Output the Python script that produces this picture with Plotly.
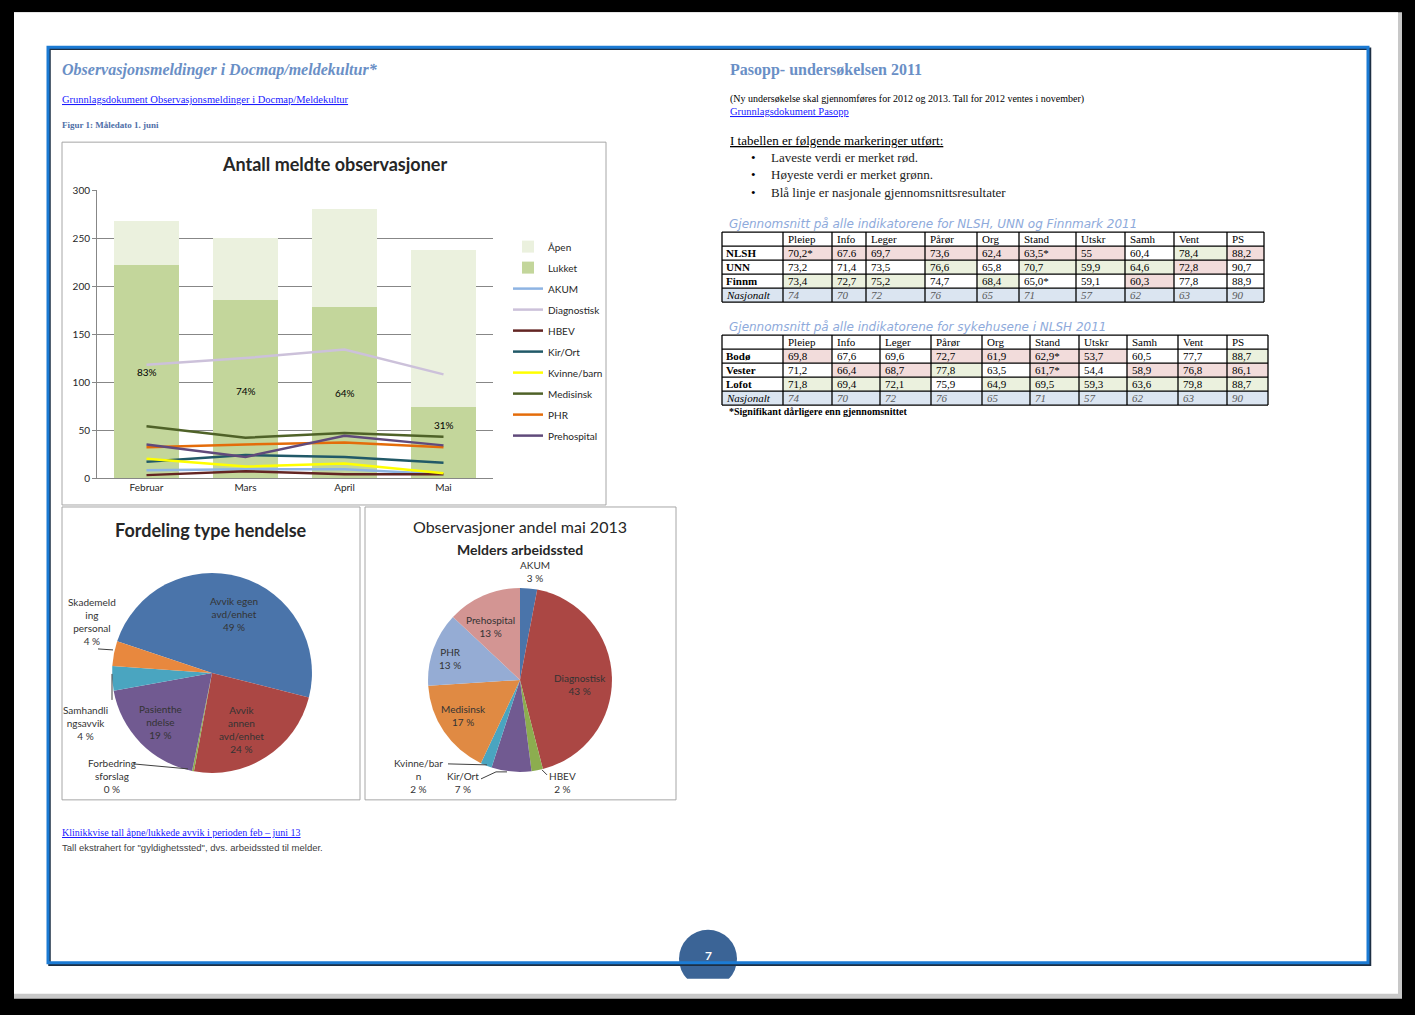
import plotly.graph_objects as go

W, H = 1415, 1015
# the page is photographed with a small vertical offset/scale; these undo it
VOFF, VSCALE = 4.8, 0.9876
def X(p): return p / W
def Y(p): return 1 - ((p - VOFF) / VSCALE) / H

# ---------------- DATA ----------------
months = ["Februar", "Mars", "April", "Mai"]
lukket = [222, 186, 178, 74]
apen = [46, 64, 102, 164]

akum = [8, 9, 9, 4]
diagnostisk = [118, 125, 134, 108]
hbev = [3, 7, 4, 4]
kir_ort = [17, 24, 22, 16]
kvinne_barn = [20, 12, 15, 5]
medisinsk = [54, 42, 47, 43]
phr = [32, 35, 37, 32]
prehospital = [35, 22, 44, 34]

hendelse_types = ["Avvik egen avd/enhet", "Avvik annen avd/enhet", "Forbedringsforslag",
                  "Pasienthendelse", "Samhandlingsavvik", "Skademelding personal"]
hendelse_pct = [49, 24, 0.3, 19, 4, 4]

arbeidssted = ["AKUM", "Diagnostisk", "HBEV", "Kir/Ort", "Kvinne/barn",
               "Medisinsk", "PHR", "Prehospital"]
arbeidssted_pct = [3, 43, 2, 7, 2, 17, 13, 13]

indikatorer = ["Pleiep", "Info", "Leger", "Pårør", "Org", "Stand", "Utskr", "Samh", "Vent", "PS"]
t1_rows = ["NLSH", "UNN", "Finnm", "Nasjonalt"]
t1_nlsh = ["70,2*", "67.6", "69,7", "73,6", "62,4", "63,5*", "55", "60,4", "78,4", "88,2"]
t1_unn = ["73,2", "71,4", "73,5", "76,6", "65,8", "70,7", "59,9", "64,6", "72,8", "90,7"]
t1_finnm = ["73,4", "72,7", "75,2", "74,7", "68,4", "65,0*", "59,1", "60,3", "77,8", "88,9"]
nasjonalt = ["74", "70", "72", "76", "65", "71", "57", "62", "63", "90"]

t2_rows = ["Bodø", "Vester", "Lofot", "Nasjonalt"]
t2_bodo = ["69,8", "67,6", "69,6", "72,7", "61,9", "62,9*", "53,7", "60,5", "77,7", "88,7"]
t2_vester = ["71,2", "66,4", "68,7", "77,8", "63,5", "61,7*", "54,4", "58,9", "76,8", "86,1"]
t2_lofot = ["71,8", "69,4", "72,1", "75,9", "64,9", "69,5", "59,3", "63,6", "79,8", "88,7"]

# marking per cell: r = lowest (red), g = highest (green), w = none
t1_marks = ["rrrrrrrwgr", "wwwgwgggrw", "gggwgwwrww"]
t2_marks = ["rwwrrrrwwg", "wrrgwrwrrr", "gggwgggggg"]

# ---------------- STYLE ----------------
SANS = "Lato"
SERIF = "Liberation Serif"
mark_col = {"r": "#f2dcdb", "g": "#ebf1de", "w": "#ffffff"}
nat_col = "#dbe5f1"

fig = go.Figure()
shapes = []

def rect(x0, y0, x1, y1, **kw):
    d = dict(type="rect", xref="paper", yref="paper", x0=X(x0), x1=X(x1), y0=Y(y1), y1=Y(y0))
    d.update(kw)
    shapes.append(d)

def line(x0, y0, x1, y1, color="#404040", width=1):
    shapes.append(dict(type="line", xref="paper", yref="paper", x0=X(x0), x1=X(x1),
                       y0=Y(y0), y1=Y(y1), line=dict(color=color, width=width)))

def txt(x, y, s, size=11, color="#000000", family=SERIF, xanchor="left", align="left"):
    fig.add_annotation(x=X(x), y=Y(y), xref="paper", yref="paper", text=s, showarrow=False,
                       xanchor=xanchor, yanchor="middle", align=align,
                       font=dict(family=family, size=size, color=color))

# page background
rect(14, 10, 1402, 997, fillcolor="#c8c8c8", line_width=0, layer="below")
rect(14, 10, 1398, 992, fillcolor="#ffffff", line_width=0, layer="below")

# ---- bar chart ----
fig.add_trace(go.Bar(x=months, y=lukket, name="Lukket", marker_color="#c3d69b",
                     marker_line_width=0, width=0.65, legendrank=2, legendgroup="b"))
fig.add_trace(go.Bar(x=months, y=apen, name="Åpen", marker_color="#ebf1de",
                     marker_line_width=0, width=0.65, legendrank=1, legendgroup="a"))
lines = [("AKUM", akum, "#8eb4e3"), ("Diagnostisk", diagnostisk, "#ccc1da"),
         ("HBEV", hbev, "#632523"), ("Kir/Ort", kir_ort, "#215968"),
         ("Kvinne/barn", kvinne_barn, "#ffff00"), ("Medisinsk", medisinsk, "#4f6228"),
         ("PHR", phr, "#e46c0a"), ("Prehospital", prehospital, "#604a7b")]
for i, (nm, vals, col) in enumerate(lines):
    fig.add_trace(go.Scatter(x=months, y=vals, name=nm, mode="lines",
                             line=dict(color=col, width=2.5), legendrank=3 + i,
                             legendgroup=f"l{i}"))

label_y = [110, 91, 89, 55]
for m, l, a, yy in zip(months, lukket, apen, label_y):
    fig.add_annotation(x=m, y=yy, xref="x", yref="y", showarrow=False,
                       text=f"{round(100 * l / (l + a))}%",
                       font=dict(family=SANS, size=10, color="#000000"))

# ---- pies ----
fig.add_trace(go.Pie(labels=hendelse_types, values=hendelse_pct, sort=False,
                     direction="clockwise", rotation=288.4, textinfo="none",
                     marker=dict(colors=["#4a74aa", "#ab4744", "#8cad4f", "#715a91",
                                         "#4aa5c0", "#e8883e"], line=dict(width=0)),
                     domain=dict(x=[X(112), X(312)], y=[Y(771), Y(571)]),
                     showlegend=False, hoverinfo="label+percent"))
fig.add_trace(go.Pie(labels=arbeidssted, values=arbeidssted_pct, sort=False,
                     direction="clockwise", rotation=0, textinfo="none",
                     marker=dict(colors=["#4a74aa", "#ab4744", "#8cad4f", "#715a91",
                                         "#4aa5c0", "#e08a43", "#95acd4", "#d39593"],
                                 line=dict(width=0)),
                     domain=dict(x=[X(428), X(612)], y=[Y(770), Y(586)]),
                     showlegend=False, hoverinfo="label+percent"))

# ---- tables (drawn cell by cell from the data lists) ----
def table(rows, data, marks, colw, x0, y0, rh=14):
    edges = [x0]
    for w_ in colw:
        edges.append(edges[-1] + w_)
    nrows = len(rows) + 1
    redges = [y0 + k * rh for k in range(nrows + 1)]
    for ri in range(len(rows)):
        ytop, ybot = redges[ri + 1], redges[ri + 2]
        is_nat = rows[ri] == "Nasjonalt"
        rect(edges[0], ytop, edges[1], ybot, fillcolor=nat_col if is_nat else "#ffffff",
             line_width=0, layer="below")
        for j in range(len(indikatorer)):
            c = nat_col if is_nat else mark_col[marks[ri][j]]
            rect(edges[j + 1], ytop, edges[j + 2], ybot, fillcolor=c, line_width=0, layer="below")
    for e in edges:
        line(e, redges[0], e, redges[-1], "#000000", 1.3)
    for r in redges:
        line(edges[0], r, edges[-1], r, "#000000", 1.3)
    for j, h in enumerate(indikatorer):
        txt(edges[j + 1] + 3, redges[0] + rh / 2, h, 11)
    for ri, rname in enumerate(rows):
        yc = redges[ri + 1] + rh / 2
        if rname == "Nasjonalt":
            txt(edges[0] + 2, yc, f"<i>{rname}</i>", 11)
            for j in range(len(indikatorer)):
                txt(edges[j + 1] + 3, yc, f"<i>{nasjonalt[j]}</i>", 11, "#595959")
        else:
            txt(edges[0] + 2, yc, f"<b>{rname}</b>", 11)
            for j in range(len(indikatorer)):
                txt(edges[j + 1] + 3, yc, data[ri][j], 11)

table(t1_rows, [t1_nlsh, t1_unn, t1_finnm], t1_marks,
      [61, 49, 34, 59, 52, 42, 57, 49, 49, 53, 37], 722, 230)
table(t2_rows, [t2_bodo, t2_vester, t2_lofot], t2_marks,
      [61, 49, 48, 51, 51, 48, 49, 48, 51, 49, 41], 722, 333)

# chart boxes
rect(62, 140, 606, 503, line=dict(color="#a6a6a6", width=1))
rect(62, 505, 360, 798, line=dict(color="#a6a6a6", width=1))
rect(365, 505, 676, 798, line=dict(color="#a6a6a6", width=1))
# leader lines
line(98, 647, 113, 648)
line(112, 672, 112, 698)
line(133, 762, 188, 767)
line(448, 762, 487, 763)
line(481, 777, 496, 770)
line(496, 770, 507, 770)
line(542, 768, 547, 773)
# page number badge
shapes.append(dict(type="circle", xref="paper", yref="paper", x0=X(679), x1=X(737),
                   y0=Y(986), y1=Y(928), fillcolor="#3b6496", line_width=0))
rect(672, 977, 744, 990, fillcolor="#ffffff", line_width=0)
# frame
rect(49.5, 46.5, 1370, 963, line=dict(color="#1d2f44", width=2.5))
rect(48, 45, 1368, 961, line=dict(color="#1c7bd4", width=3))

# ---------------- TEXT ----------------
txt(60, 68, "<b><i>Observasjonsmeldinger i Docmap/meldekultur*</i></b>", 16, "#6a8fc6")
txt(60, 97, "<u>Grunnlagsdokument Observasjonsmeldinger i Docmap/Meldekultur</u>", 10.5, "#1a1aff")
txt(60, 123, "<b>Figur 1: Måledato 1. juni</b>", 9, "#4f6fa8")
txt(728, 68, "<b>Pasopp- undersøkelsen 2011</b>", 16, "#6a8fc6")
txt(728, 97, "(Ny undersøkelse skal gjennomføres for 2012 og 2013. Tall for 2012 ventes i november)", 10, "#000000")
txt(728, 109, "<u>Grunnlagsdokument Pasopp</u>", 10.5, "#1a1aff")
txt(728, 138, "<u>I tabellen er følgende markeringer utført:</u>", 13, "#000000")
for yy, s in [(155, "Laveste verdi er merket rød."), (172, "Høyeste verdi er merket grønn."),
              (190, "Blå linje er nasjonale gjennomsnittsresultater")]:
    txt(749, yy, "•", 13)
    txt(769, yy, s, 13, "#1a1a1a")
txt(727, 222, "<i>Gjennomsnitt på alle indikatorene for NLSH, UNN og Finnmark 2011</i>", 12, "#8eaadb", "DejaVu Sans")
txt(727, 325, "<i>Gjennomsnitt på alle indikatorene for sykehusene i NLSH 2011</i>", 12, "#8eaadb", "DejaVu Sans")
txt(727, 409, "<b>*Signifikant dårligere enn gjennomsnittet</b>", 10, "#000000")
txt(60, 831, "<u>Klinikkvise tall åpne/lukkede avvik i perioden feb – juni 13</u>", 10, "#1a1aff")
txt(60, 846, "Tall ekstrahert for \"gyldighetssted\", dvs. arbeidssted til melder.", 9.5, "#404040", "Liberation Sans")
txt(708, 954, "<b>7</b>", 12, "#ffffff", SANS, "center")

# chart titles
txt(334, 162, "<b>Antall meldte observasjoner</b>", 18, "#262626", SANS, "center")
txt(211, 528, "<b>Fordeling type hendelse</b>", 18, "#262626", SANS, "center")
txt(520, 525, "Observasjoner andel mai 2013", 16, "#262626", SANS, "center")
txt(520, 548, "<b>Melders arbeidssted</b>", 14, "#262626", SANS, "center")

# pie labels
hendelse_wrapped = ["Avvik egen<br>avd/enhet", "Avvik<br>annen<br>avd/enhet", "Forbedring<br>sforslag",
                    "Pasienthe<br>ndelse", "Samhandli<br>ngsavvik", "Skademeld<br>ing<br>personal"]
hendelse_pos = [(234, 612), (241, 728), (112, 774), (160, 720), (85, 721), (92, 620)]
for w_, p, (px, py) in zip(hendelse_wrapped, hendelse_pct, hendelse_pos):
    txt(px, py, f"{w_}<br>{round(p)} %", 10, "#333333", SANS, "center", "center")

arbeid_wrapped = ["AKUM", "Diagnostisk", "HBEV", "Kir/Ort", "Kvinne/bar<br>n",
                  "Medisinsk", "PHR", "Prehospital"]
arbeid_pos = [(535, 570), (580, 683), (562, 781), (463, 781), (418, 774),
              (463, 714), (450, 657), (490, 625)]
for w_, p, (px, py) in zip(arbeid_wrapped, arbeidssted_pct, arbeid_pos):
    txt(px, py, f"{w_}<br>{p} %", 10, "#333333", SANS, "center", "center")

fig.update_layout(
    width=W, height=H, margin=dict(l=0, r=0, t=0, b=0),
    paper_bgcolor="#000000", plot_bgcolor="rgba(0,0,0,0)",
    barmode="stack", bargap=0.35, shapes=shapes,
    xaxis=dict(domain=[X(97), X(493)], range=[-0.5, 3.5], showgrid=False,
               showline=True, linecolor="#878787", linewidth=1, ticks="",
               tickfont=dict(family=SANS, size=10, color="#262626"), fixedrange=True),
    yaxis=dict(domain=[Y(476), Y(188)], range=[0, 300], dtick=50, showgrid=True,
               gridcolor="#878787", gridwidth=1, showline=True, linecolor="#878787",
               ticks="outside", ticklen=4, tickcolor="#878787", zeroline=False,
               tickfont=dict(family=SANS, size=10, color="#262626"), fixedrange=True),
    legend=dict(x=X(508), y=Y(230), xanchor="left", yanchor="top", traceorder="grouped",
                bgcolor="rgba(0,0,0,0)", font=dict(family=SANS, size=10, color="#262626"),
                itemwidth=30, tracegroupgap=2),
)

post = ("document.documentElement.style.margin='0';document.body.style.margin='0';"
        "document.body.style.overflow='hidden';"
        "var d=document.getElementById('{plot_id}');"
        "d.style.position='fixed';d.style.left='0px';d.style.top='0px';")
fig.write_html("out.html", config={"displayModeBar": False}, post_script=post)
